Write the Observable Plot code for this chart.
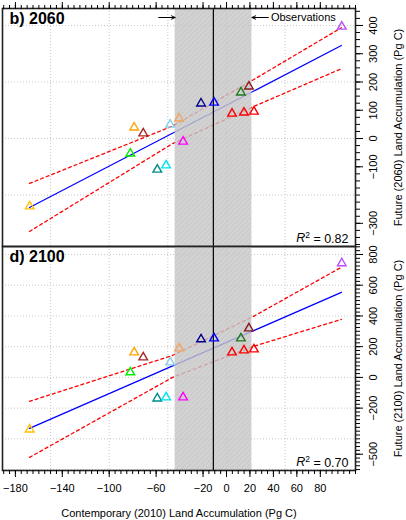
<!DOCTYPE html>
<html><head><meta charset="utf-8">
<script src="https://cdn.jsdelivr.net/npm/d3@7"></script>
<script src="https://cdn.jsdelivr.net/npm/@observablehq/plot@0.6"></script>
<style>
body{margin:0;background:#fff;}
#chart{position:relative;width:406px;height:520px;font-family:"Liberation Sans",Arial,sans-serif;}
#chart svg{position:absolute;left:0;overflow:visible;}
</style></head><body><div id="chart"></div>
<script>
// ---- data ----
const pointColors = ["#FFC000","#00EE00","#FFA500","#A52A2A","#008B8B","#00E5EE","#87CEEB","#FF00FF","#F4A460","#00008B","#0000FF","#FF0000","#FF0000","#FF0000","#1E7B1E","#8B1A1A","#B84DFF"];
const x2010 = [-167.8,-82,-78.7,-71,-59,-51.5,-48,-37,-40.4,-21.7,-10.6,4.7,14.9,23.4,12.3,19.1,98.3];
const y2060 = [-240,-53,39,18,-110,-95,49,-11,71,124,127,88,92,95,163,184,396];
const y2100 = [-339,33,163,130,-137,-130,98,-130,189,248,254,163,176,182,254,319,743];
const fitX = [-168, 98];
const fit2060 = [-244, 329];
const fit2100 = [-332, 554];
const bandX = [-168, -46, 23, 98];
const upper2060 = [-159, 44, 208, 392];
const lower2060 = [-329, -18, 113, 247];
const upper2100 = [-156, 143, 397, 717];
const lower2100 = [-521, 0, 202, 378];
const obsRange = [-43.8, 21.7];
const obsMean = -11.2;
const r2Values = ["0.82", "0.70"];
const panelLabels = ["b) 2060", "d) 2100"];
const yTitles = ["Future (2060) Land Accumulation (Pg C)", "Future (2100) Land Accumulation (Pg C)"];
const xTitle = "Contemporary (2010) Land Accumulation (Pg C)";
const obsLabel = "Observations";
const xTickLabels = [-180,-140,-100,-60,-20,0,20,40,60,80];
const yTickLabels2060 = [400,300,200,100,0,-100,-300];
const yTickLabels2100 = [800,600,400,200,0,-200,-500];

// ---- layout ----
const W = 406, xDomain = [-191, 110];
const fmt = d => d < 0 ? "\u2212" + Math.abs(d) : String(d);
const idx = d3.range(x2010.length);
const chart = document.getElementById("chart");

function panel(o) {
  const minorY = d3.range(Math.ceil(o.yDomain[0]/25)*25, o.yDomain[1], 25);
  const minorX = d3.range(-190, 111, 5);
  const gridYs = d3.range(Math.ceil(o.yDomain[0]/200)*200, o.yDomain[1], 200);
  const fitData = fitX.map((x, i) => ({x, y: o.fit[i]}));
  const up = bandX.map((x, i) => ({x, y: o.upper[i]}));
  const lo = bandX.map((x, i) => ({x, y: o.lower[i]}));
  const marks = [
    Plot.gridX([-150,-100,-50,0,50], {stroke:"#c8c8c8", strokeOpacity:1, strokeDasharray:"1,2"}),
    Plot.gridY(gridYs, {stroke:"#c8c8c8", strokeOpacity:1, strokeDasharray:"1,2"}),
    Plot.line(fitData, {x:"x", y:"y", stroke:"#0000FF", strokeWidth:1.3}),
    Plot.line(up, {x:"x", y:"y", stroke:"#FF0000", strokeWidth:1.3, strokeDasharray:"3,3"}),
    Plot.line(lo, {x:"x", y:"y", stroke:"#FF0000", strokeWidth:1.3, strokeDasharray:"3,3"}),
    Plot.rect([obsRange], {x1: d => d[0], x2: d => d[1], fill: `url(#${o.id})`, fillOpacity: 0.82}),
    Plot.ruleX([obsMean], {stroke:"black", strokeWidth:1.2}),
    Plot.dot(idx, {x: i => x2010[i], y: i => o.ys[i], stroke: i => pointColors[i], symbol:"triangle", r:3.2, strokeWidth:1.4, fill:"none"}),
    Plot.frame({stroke:"#222", strokeWidth:1.6}),
    Plot.axisY({anchor:"right", ticks: minorY, tickSize:4, tickFormat: () => "", label: null}),
    Plot.axisY({anchor:"right", ticks: o.yLabels, tickSize:7, tickFormat: () => "", label: null}),
    Plot.text(o.yLabels, {y: d => d, frameAnchor:"right", dx:18, rotate:-90, text: fmt, fontSize:11, textAnchor:"middle", lineAnchor:"middle"}),
    Plot.text([o.title], {frameAnchor:"right", dx:43, rotate:-90, fontSize:11, textAnchor:"middle", lineAnchor:"middle"}),
    Plot.text([o.label], {frameAnchor:"top-left", dx:7, dy:4.5, fontSize:16, fontWeight:"bold", textAnchor:"start", lineAnchor:"top"}),
    Plot.text(["R^2 = " + o.r2], {frameAnchor:"bottom-right", dx:-7, dy:-5, fontSize:12.5, textAnchor:"end", lineAnchor:"bottom"})
  ];
  if (o.top) {
    marks.push(
      Plot.axisX({anchor:"top", ticks: minorX, tickSize:4, tickFormat: () => "", label: null}),
      Plot.axisX({anchor:"top", ticks: xTickLabels, tickSize:7, tickFormat: () => "", label: null})
    );
    const yA = o.yDomain[1] - (o.yDomain[1] - o.yDomain[0]) * 9 / 238;
    marks.push(
      Plot.arrow([obsRange], {x1: d => d[0] - 14, x2: d => d[0], y1: yA, y2: yA, stroke:"black", strokeWidth:1, headLength:6, headAngle:50}),
      Plot.arrow([obsRange], {x1: d => d[1] + 14, x2: d => d[1], y1: yA, y2: yA, stroke:"black", strokeWidth:1, headLength:6, headAngle:50}),
      Plot.text([obsLabel], {x: obsRange[1], y: yA, dx:19, fontSize:11, textAnchor:"start", lineAnchor:"middle"})
    );
  } else {
    marks.push(
      Plot.axisX({anchor:"bottom", ticks: minorX, tickSize:4, tickFormat: () => "", label: null}),
      Plot.axisX({anchor:"bottom", ticks: xTickLabels, tickSize:7, tickPadding:7, tickFormat: fmt, fontSize:11, label: null}),
      Plot.text([xTitle], {frameAnchor:"bottom", dy:46, fontSize:11, textAnchor:"middle", lineAnchor:"bottom"})
    );
  }
  const svg = Plot.plot({
    width: W, height: o.height,
    marginLeft: 2, marginRight: 51, marginTop: o.marginTop, marginBottom: o.marginBottom,
    x: {domain: xDomain, label: null},
    y: {domain: o.yDomain, label: null},
    color: {type: "identity"},
    style: {fontFamily: "Liberation Sans, Arial, sans-serif", fontSize: "11px", background: "transparent", overflow: "visible", color: "black"},
    marks
  });
  // hatch pattern
  const ns = "http://www.w3.org/2000/svg";
  const defs = document.createElementNS(ns, "defs");
  defs.innerHTML = `<pattern id="${o.id}" patternUnits="userSpaceOnUse" width="3.5" height="3.5" patternTransform="rotate(45)"><rect width="3.5" height="3.5" fill="#c2c2c2"/><line x1="0" y1="0" x2="0" y2="3.5" stroke="#d6d6d6" stroke-width="1.2"/></pattern>`;
  svg.insertBefore(defs, svg.firstChild);
  // R^2 rich text
  svg.querySelectorAll("text").forEach(t => {
    if (t.textContent.startsWith("R^2")) {
      const rest = t.textContent.slice(3);
      t.textContent = "";
      const a = document.createElementNS(ns, "tspan"); a.setAttribute("font-style","italic"); a.textContent = "R";
      const b = document.createElementNS(ns, "tspan"); b.setAttribute("dy","-0.45em"); b.setAttribute("font-size","8.5"); b.textContent = "2";
      const c = document.createElementNS(ns, "tspan"); c.setAttribute("dy","0.45em"); c.textContent = rest;
      t.append(a, b, c);
    }
  });
  svg.style.top = o.offset + "px";
  chart.appendChild(svg);
}

panel({id:"hatchA", ys:y2060, fit:fit2060, upper:upper2060, lower:lower2060, yDomain:[-382,460], yLabels:yTickLabels2060, title:yTitles[0], label:panelLabels[0], r2:r2Values[0], height:246, marginTop:8, marginBottom:0, top:true, offset:0});
panel({id:"hatchB", ys:y2100, fit:fit2100, upper:upper2100, lower:lower2100, yDomain:[-606,852], yLabels:yTickLabels2100, title:yTitles[1], label:panelLabels[1], r2:r2Values[1], height:274, marginTop:0, marginBottom:50, top:false, offset:246});
</script></body></html>
